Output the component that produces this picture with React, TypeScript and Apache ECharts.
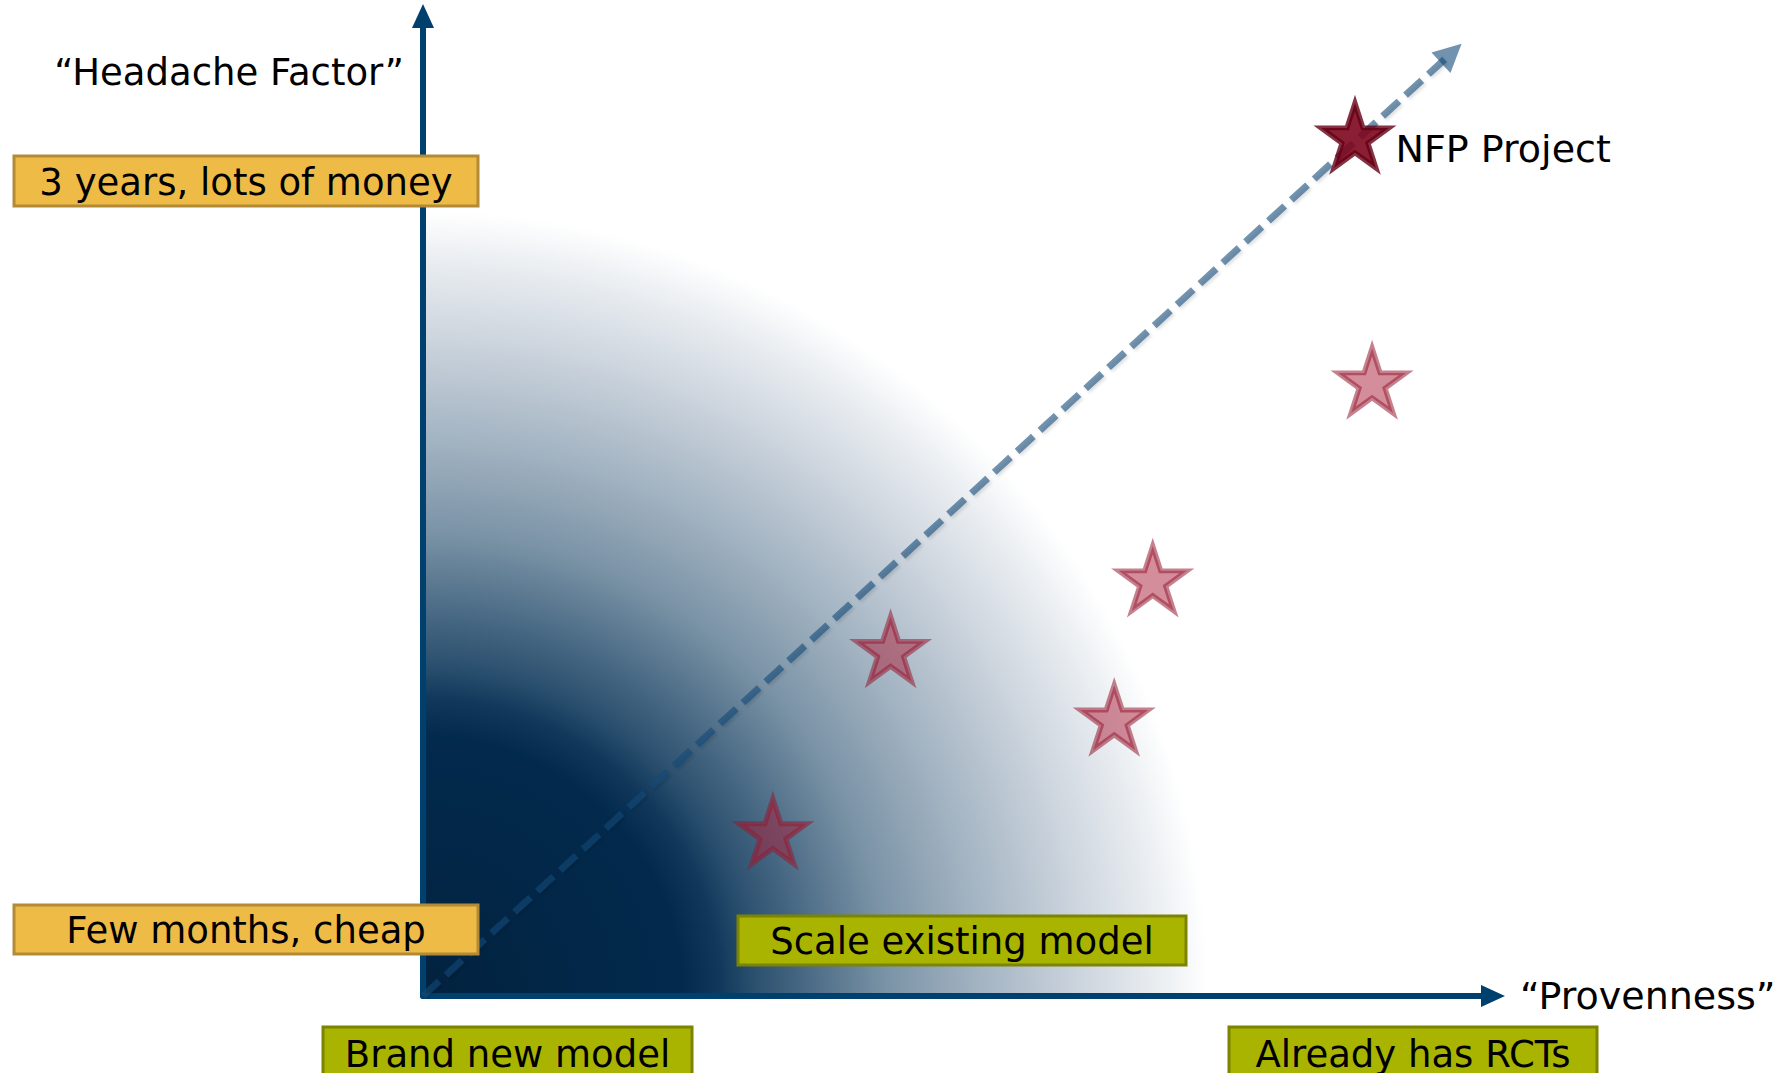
import React, { useEffect, useRef } from "react";
import * as echarts from "echarts";

// ---- data ----
const xAxisName = "\u201CProvenness\u201D";
const yAxisName = "\u201CHeadache Factor\u201D";
const projectNames = ["NFP Project", "", "", "", "", ""];
const provenness = [87.1, 88.7, 68.2, 43.7, 64.6, 32.7];
const headache = [87.8, 62.8, 42.6, 35.4, 28.4, 16.8];
const trendStart = [0, 0];
const trendEnd = [96.1, 96.2];
const yBandLabels = ["3 years, lots of money", "Few months, cheap"];
const xBandLabels = ["Brand new model", "Scale existing model", "Already has RCTs"];

// ---- layout ----
const W = 1785;
const H = 1073;
const GRID = { left: 423, top: 16, width: 1070, height: 980 };
const FONT = '"DejaVu Sans", Verdana, sans-serif';
const STAR =
  "path://M0,-50 L11.23,-15.45 L47.55,-15.45 L18.17,5.9 L29.39,40.45 L0,19.1 L-29.39,40.45 L-18.17,5.9 L-47.55,-15.45 L-11.23,-15.45 Z";

const ORANGE = { fill: "#efbb47", stroke: "#b38b36" };
const GREEN = { fill: "#a9b400", stroke: "#7c8400" };

function box(x: number, y: number, w: number, h: number, text: string, c: { fill: string; stroke: string }) {
  return {
    type: "group",
    z: 10,
    children: [
      {
        type: "rect",
        z: 10,
        shape: { x, y, width: w, height: h },
        style: { fill: c.fill, stroke: c.stroke, lineWidth: 3 },
      },
      {
        type: "text",
        z: 11,
        style: {
          x: x + w / 2,
          y: y + h / 2 + 1,
          text,
          fill: "#000",
          font: `37px ${FONT}`,
          align: "center",
          verticalAlign: "middle",
          textAlign: "center",
          textVerticalAlign: "middle",
        },
      },
    ],
  };
}

export default function App() {
  const ref = useRef<HTMLDivElement>(null);

  useEffect(() => {
    if (!ref.current) return;
    const chart = echarts.init(ref.current, null, { renderer: "svg" });
    const ox = GRID.left;
    const oy = GRID.top + GRID.height;
    const R = 785;

    const axisLine = {
      show: true,
      onZero: false,
      symbol: ["none", "triangle"],
      symbolSize: [22, 24],
      lineStyle: { color: "#00406e", width: 6 },
    };

    const option: any = {
      animation: false,
      backgroundColor: "#ffffff",
      grid: { ...GRID, containLabel: false, outerBoundsMode: "none" },
      xAxis: {
        type: "value",
        min: 0,
        max: 100,
        z: 3,
        axisLine,
        axisTick: { show: false },
        axisLabel: { show: false },
        splitLine: { show: false },
        name: xAxisName,
        nameLocation: "end",
        nameGap: 27,
        nameTextStyle: { fontSize: 38, fontFamily: FONT, color: "#000", verticalAlign: "middle" },
      },
      yAxis: {
        type: "value",
        min: 0,
        max: 100,
        z: 3,
        axisLine,
        axisTick: { show: false },
        axisLabel: { show: false },
        splitLine: { show: false },
        name: yAxisName,
        nameLocation: "end",
        nameGap: -56,
        nameTextStyle: {
          fontSize: 37,
          fontFamily: FONT,
          color: "#000",
          align: "right",
          verticalAlign: "middle",
          padding: [0, 19, 0, 0],
        },
      },
      graphic: {
        elements: [
          {
            type: "rect",
            z: 0,
            silent: true,
            shape: { x: ox, y: GRID.top, width: GRID.width, height: GRID.height },
            style: {
              fill: {
                type: "radial",
                x: ox,
                y: oy,
                r: R,
                global: true,
                colorStops: [
                  { offset: 0, color: "#02223f" },
                  { offset: 0.33, color: "#022a4d" },
                  { offset: 0.38, color: "#12395c" },
                  { offset: 0.42, color: "#2a4f6e" },
                  { offset: 0.49, color: "#4a6a85" },
                  { offset: 0.59, color: "#7a93a6" },
                  { offset: 0.7, color: "#a0b1c0" },
                  { offset: 0.84, color: "#cdd5de" },
                  { offset: 0.95, color: "#eef1f4" },
                  { offset: 1, color: "#ffffff" },
                ],
              },
            },
          },
          box(14, 156, 464, 50, yBandLabels[0], ORANGE),
          box(14, 905, 464, 49, yBandLabels[1], ORANGE),
          box(323, 1027, 369, 52, xBandLabels[0], GREEN),
          box(738, 916, 448, 49, xBandLabels[1], GREEN),
          box(1229, 1027, 368, 52, xBandLabels[2], GREEN),
        ],
      },
      series: [
        {
          type: "lines",
          coordinateSystem: "cartesian2d",
          z: 4,
          silent: true,
          symbol: ["none", "triangle"],
          symbolSize: 28,
          lineStyle: {
            color: "rgba(13,72,119,0.59)",
            width: 7,
            type: [22, 9],
            opacity: 1,
            shadowBlur: 3,
            shadowColor: "rgba(0,0,0,0.2)",
            shadowOffsetX: 2,
            shadowOffsetY: 2,
          },
          data: [{ coords: [trendStart, trendEnd] }],
        },
        {
          type: "scatter",
          z: 5,
          symbol: STAR,
          symbolSize: [68, 65],
          itemStyle: {
            color: "rgba(170,30,55,0.5)",
            borderColor: "rgba(150,25,50,0.55)",
            borderWidth: 5,
            opacity: 1,
          },
          data: provenness.map((x, i) => ({
            value: [x, headache[i]],
            name: projectNames[i],
            itemStyle:
              i === 0
                ? { color: "rgba(125,5,30,0.9)", borderColor: "rgba(100,0,20,0.8)", borderWidth: 5, opacity: 1 }
                : undefined,
            label:
              projectNames[i] !== ""
                ? {
                    show: true,
                    position: "right",
                    distance: 4,
                    offset: [0, 13],
                    formatter: "{b}",
                    fontSize: 38,
                    fontFamily: FONT,
                    color: "#000",
                  }
                : { show: false },
          })),
        },
      ],
    };

    chart.setOption(option);
    return () => chart.dispose();
  }, []);

  return (
    <div
      ref={ref}
      style={{ position: "fixed", left: 0, top: 0, width: W, height: H, background: "#fff" }}
    />
  );
}
